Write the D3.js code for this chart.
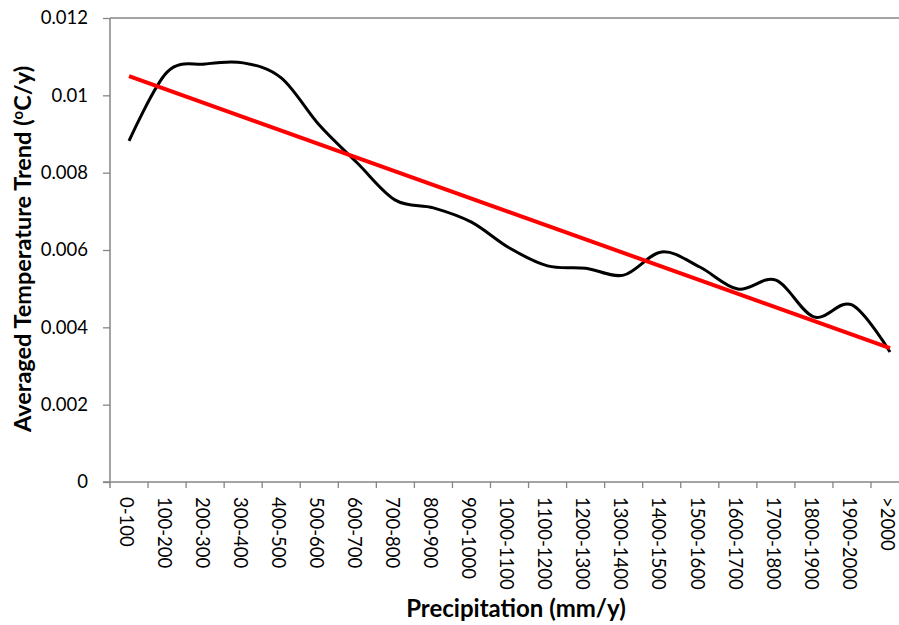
<!DOCTYPE html>
<html>
<head>
<meta charset="utf-8">
<script src="https://cdn.jsdelivr.net/npm/d3@7"></script>
<style>
  body { margin: 0; background: #fff; }
  svg { display: block; }
  .tick text { font-family: Lato, sans-serif; font-size: 18.5px; fill: #000; }
  .axis-title { font-family: Lato, sans-serif; font-weight: bold; fill: #000; }
</style>
</head>
<body>
<div id="chart"></div>
<script>
/*globals d3 */
(function () {
    'use strict';

    var categories = ["0-100", "100-200", "200-300", "300-400", "400-500", "500-600",
        "600-700", "700-800", "800-900", "900-1000", "1000-1100", "1100-1200",
        "1200-1300", "1300-1400", "1400-1500", "1500-1600", "1600-1700",
        "1700-1800", "1800-1900", "1900-2000", ">2000"];
    var trendValues = [0.00882, 0.0106, 0.01081, 0.01084, 0.01045, 0.00923,
        0.00825, 0.00729, 0.00709, 0.00672, 0.00605, 0.00559,
        0.00553, 0.00535, 0.00595, 0.00556, 0.00499,
        0.00522, 0.00427, 0.00458, 0.00336];
    var yTicks = [0, 0.002, 0.004, 0.006, 0.008, 0.01, 0.012];
    var yTickLabels = ["0", "0.002", "0.004", "0.006", "0.008", "0.01", "0.012"];

    var width = 899, height = 625,
        left = 110, top = 18, bottom = 482,
        step = 38.05,
        axisColor = "#868686";

    var svg = d3.select("#chart").append("svg")
        .attr("width", width)
        .attr("height", height);

    var x = d3.scaleBand()
        .domain(categories)
        .range([left, left + step * categories.length])
        .padding(0);

    var y = d3.scaleLinear()
        .domain([0, 0.012])
        .range([bottom, top]);

    function cx(d) { return x(d) + x.bandwidth() / 2; }

    // top border of the plot area
    svg.append("line")
        .attr("x1", left).attr("x2", width)
        .attr("y1", top).attr("y2", top)
        .attr("stroke", axisColor).attr("stroke-width", 1.5);

    // y axis
    var yAxis = svg.append("g")
        .attr("transform", "translate(" + left + ",0)")
        .call(d3.axisLeft(y)
            .tickValues(yTicks)
            .tickFormat(function (d, i) { return yTickLabels[i]; })
            .tickSize(7)
            .tickPadding(15));
    yAxis.select(".domain").remove();
    yAxis.selectAll(".tick line").attr("stroke", axisColor).attr("stroke-width", 1.3);
    svg.append("line")
        .attr("x1", left).attr("x2", left)
        .attr("y1", top).attr("y2", bottom + 6)
        .attr("stroke", axisColor).attr("stroke-width", 1.5);

    // x axis: line plus ticks at category boundaries
    svg.append("line")
        .attr("x1", left - 7).attr("x2", width)
        .attr("y1", bottom).attr("y2", bottom)
        .attr("stroke", axisColor).attr("stroke-width", 1.5);
    svg.append("g").selectAll("line")
        .data(categories.slice(1))
        .enter()
        .append("line")
        .attr("x1", function (d) { return x(d); })
        .attr("x2", function (d) { return x(d); })
        .attr("y1", bottom).attr("y2", bottom + 6)
        .attr("stroke", axisColor).attr("stroke-width", 1.3);

    svg.append("g").attr("class", "tick").selectAll("text")
        .data(categories)
        .enter()
        .append("text")
        .attr("transform", function (d) { return "translate(" + cx(d) + "," + (bottom + 15) + ") rotate(90)"; })
        .attr("dy", "0.5em")
        .attr("text-anchor", "start")
        .text(function (d) { return d; });

    // least squares trend line
    var n = trendValues.length,
        mx = d3.mean(trendValues, function (d, i) { return i; }),
        my = d3.mean(trendValues),
        sxy = d3.sum(trendValues, function (d, i) { return (i - mx) * (d - my); }),
        sxx = d3.sum(trendValues, function (d, i) { return (i - mx) * (i - mx); }),
        slope = sxy / sxx,
        icpt = my - slope * mx;

    var line = d3.line()
        .x(function (d, i) { return cx(categories[i]); })
        .y(function (d) { return y(d); })
        .curve(d3.curveCardinal.tension(0));

    svg.append("path")
        .datum(trendValues)
        .attr("d", line)
        .attr("fill", "none")
        .attr("stroke", "#000")
        .attr("stroke-width", 3);

    svg.append("line")
        .attr("x1", cx(categories[0]))
        .attr("y1", y(icpt))
        .attr("x2", cx(categories[n - 1]))
        .attr("y2", y(icpt + slope * (n - 1)))
        .attr("stroke", "#ff0000")
        .attr("stroke-width", 4);

    // titles
    var yTitle = svg.append("text")
        .attr("class", "axis-title")
        .attr("font-size", "23.5px")
        .attr("transform", "translate(31,249) rotate(-90)")
        .attr("text-anchor", "middle");
    yTitle.append("tspan").text("Averaged Temperature Trend (");
    yTitle.append("tspan").attr("font-size", "15px").attr("dy", "-0.55em").text("o");
    yTitle.append("tspan").attr("dy", "0.35em").text("C/y)");

    svg.append("text")
        .attr("class", "axis-title")
        .attr("font-size", "24px")
        .attr("x", 516)
        .attr("y", 617)
        .attr("text-anchor", "middle")
        .text("Precipitation (mm/y)");
}());
</script>
</body>
</html>
